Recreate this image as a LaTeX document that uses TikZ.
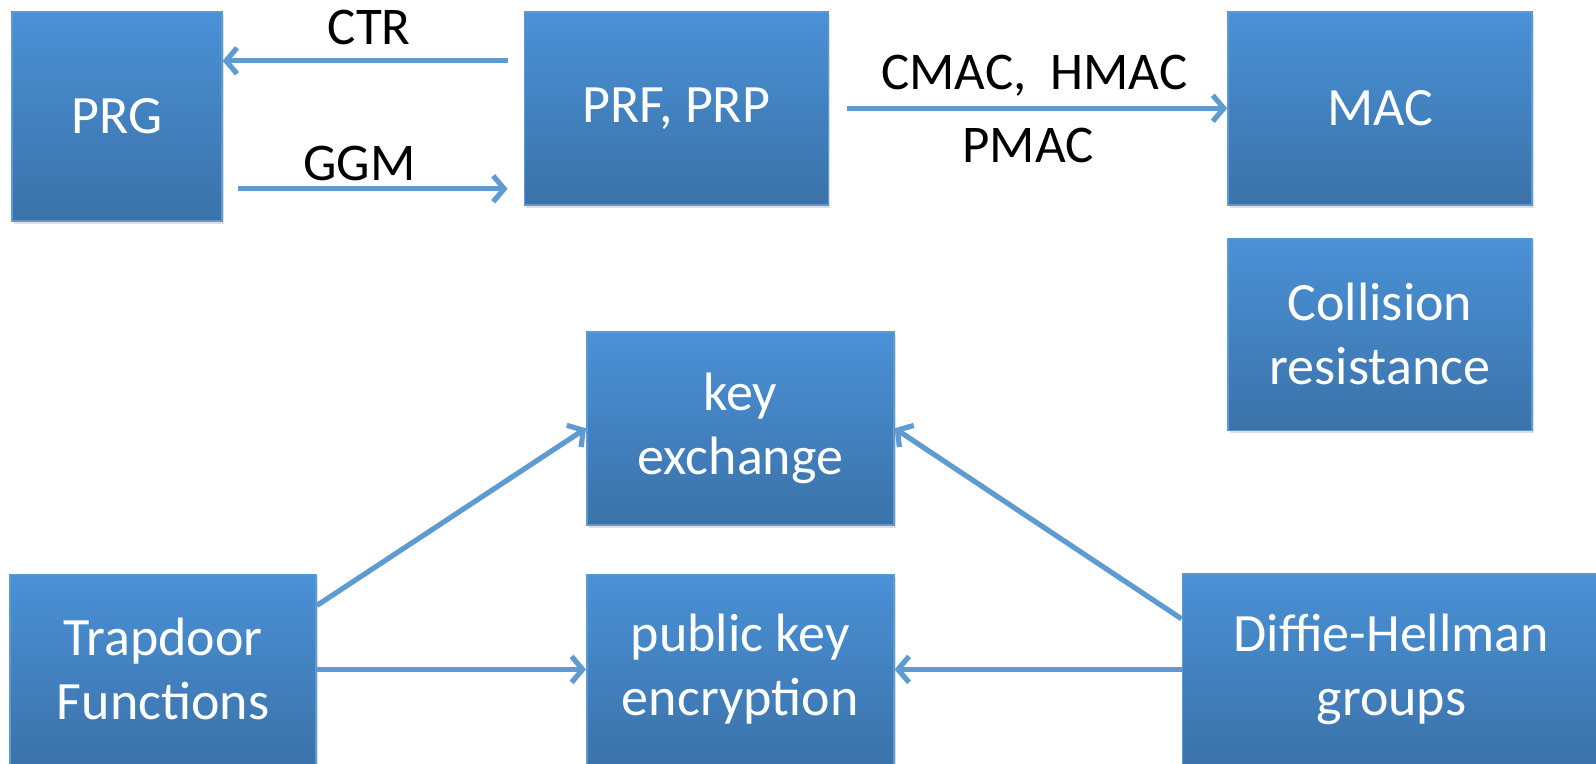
\documentclass[tikz,border=0pt]{standalone}
\usepackage{fontspec}
\setmainfont{Carlito}
\usetikzlibrary{arrows.meta,positioning,shadows}
\definecolor{BoxTop}{HTML}{4A91D6}
\definecolor{BoxBottom}{HTML}{3B72A9}
\definecolor{BoxEdge}{HTML}{5A9AD6}
\definecolor{Wire}{HTML}{5F9AD0}
\tikzset{
  nodebox/.style={draw=BoxEdge,line width=0.8pt,top color=BoxTop,bottom color=BoxBottom,text=white,align=center,inner sep=0pt,font=\fontsize{27}{32}\selectfont,drop shadow={shadow xshift=1pt,shadow yshift=-1.5pt,opacity=0.25}},
  wire/.style={-{Straight Barb[length=5.5pt,width=13pt]},draw=Wire,line width=2.6pt},
  wiretext/.style={font=\fontsize{26.5}{30}\selectfont,text=black,inner sep=0pt,anchor=base}
}

\begin{document}
\begin{tikzpicture}[x=0.5pt,y=-0.5pt]
  \useasboundingbox (0,0) rectangle (1596,764);
  % top row
  \node[nodebox,minimum width=105pt,minimum height=104.5pt,anchor=north west] (prg) at (11,11) {PRG};
  \node[nodebox,minimum width=152pt,minimum height=96.5pt,right=150.5pt of prg.north east,anchor=north west] (prf) {PRF, PRP};
  \node[nodebox,minimum width=152pt,minimum height=96.5pt,right=199pt of prf] (mac) {MAC};
  \node[nodebox,minimum width=152pt,minimum height=96pt,below=16pt of mac] (coll) {Collision\\resistance};
  % public key part
  \node[nodebox,minimum width=153.5pt,minimum height=96.5pt,anchor=north west] (kex) at (586,331) {key\\exchange};
  \node[nodebox,minimum width=153.5pt,minimum height=95pt,below=24pt of kex] (pke) {public key\\encryption};
  \node[nodebox,minimum width=153pt,minimum height=95pt,left=134.5pt of pke] (tdf) {Trapdoor\\Functions};
  \node[nodebox,minimum width=209pt,minimum height=95.5pt,right=143.5pt of pke] (dh) {Diffie-Hellman\\groups};

  \draw[wire,shorten <=8pt] ([yshift=23.75pt]prf.west) -- ([yshift=23.75pt]prf.west -| prg.east)
    node[wiretext,midway,xshift=-2pt,yshift=8.25pt] (ctr) {CTR};
  \draw[wire,shorten <=7.5pt,shorten >=8pt] ([yshift=-40.25pt]prf.west -| prg.east) -- ([yshift=-40.25pt]prf.west)
    node[wiretext,midway,xshift=-6.75pt,yshift=4pt] (ggm) {GGM};
  \draw[wire,shorten <=9pt] (prf.east) -- (mac.west)
    node[wiretext,midway,xshift=3pt,yshift=9.5pt] (cmac) {CMAC,\ \ HMAC}
    node[wiretext,midway,yshift=-27pt] (pmac) {PMAC};

  \draw[wire] ([yshift=32pt]tdf.east) -- (kex.west);
  \draw[wire] (tdf.east) -- (pke.west);
  \draw[wire] ([yshift=25.25pt]dh.west) -- (kex.east);
  \draw[wire] (dh.west) -- (pke.east);
\end{tikzpicture}
\end{document}
